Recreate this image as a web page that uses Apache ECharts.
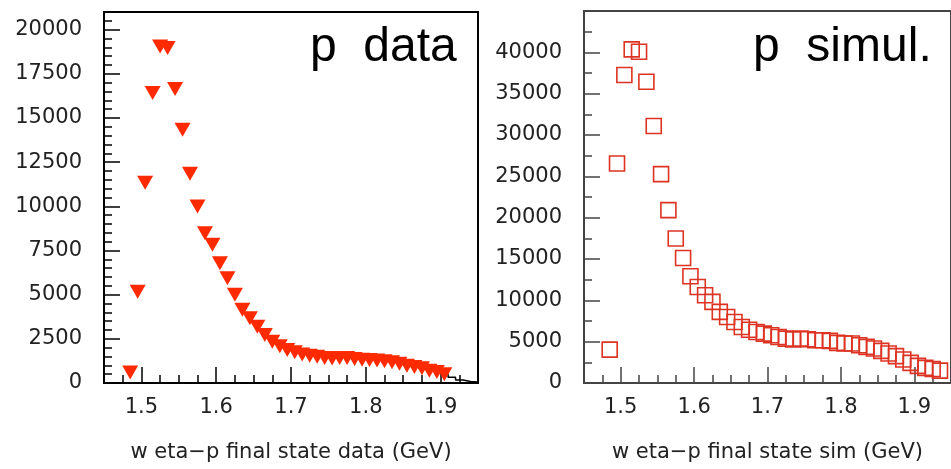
<!DOCTYPE html>
<html>
<head>
<meta charset="utf-8">
<script src="https://cdn.jsdelivr.net/npm/echarts@6/dist/echarts.min.js"></script>
<style>
  html, body { margin: 0; padding: 0; background: #fff; }
  #chart { width: 951px; height: 469px; }
</style>
</head>
<body>
<div id="chart"></div>
<script>
// W(eta-p) distributions, 10 MeV bins (bin centres in GeV)
const dataBinCenters = [1.485, 1.495, 1.505, 1.515, 1.525, 1.535, 1.545, 1.555, 1.565, 1.575,
  1.585, 1.595, 1.605, 1.615, 1.625, 1.635, 1.645, 1.655, 1.665, 1.675,
  1.685, 1.695, 1.705, 1.715, 1.725, 1.735, 1.745, 1.755, 1.765, 1.775,
  1.785, 1.795, 1.805, 1.815, 1.825, 1.835, 1.845, 1.855, 1.865, 1.875,
  1.885, 1.895, 1.905];
const dataCounts = [600, 5170, 11330, 16410, 19050, 18960, 16640, 14330, 11840, 9990,
  8480, 7820, 6780, 5930, 4990, 4140, 3660, 3190, 2720, 2340,
  2080, 1870, 1740, 1620, 1540, 1490, 1420, 1380, 1420, 1410,
  1360, 1320, 1300, 1270, 1230, 1180, 1090, 970, 900, 830,
  700, 620, 500];

// histogram outline of the last data bins (bin edges and contents)
const dataTailEdges = [1.90, 1.91, 1.92, 1.93, 1.94, 1.95];
const dataTailCounts = [500, 320, 170, 80, 50];

const simBinCenters = [1.485, 1.495, 1.505, 1.515, 1.525, 1.535, 1.545, 1.555, 1.565, 1.575,
  1.585, 1.595, 1.605, 1.615, 1.625, 1.635, 1.645, 1.655, 1.665, 1.675,
  1.685, 1.695, 1.705, 1.715, 1.725, 1.735, 1.745, 1.755, 1.765, 1.775,
  1.785, 1.795, 1.805, 1.815, 1.825, 1.835, 1.845, 1.855, 1.865, 1.875,
  1.885, 1.895, 1.905, 1.915, 1.925, 1.935];
const simCounts = [4040, 26560, 37250, 40360, 40070, 36440, 31080, 25270, 20910, 17480,
  15130, 12920, 11620, 10620, 9810, 8600, 7990, 7380, 6770, 6450,
  6170, 5970, 5770, 5570, 5370, 5270, 5370, 5290, 5170, 5170,
  5090, 4850, 4770, 4770, 4570, 4370, 4170, 3890, 3570, 3250,
  2840, 2440, 2070, 1830, 1700, 1500];

// axis ticks
const xMajorTicks = [1.5, 1.6, 1.7, 1.8, 1.9];
const xMinorTicks = [1.475, 1.525, 1.55, 1.575, 1.625, 1.65, 1.675, 1.725, 1.75, 1.775,
  1.825, 1.85, 1.875, 1.925];
const dataYMajorTicks = [0, 2500, 5000, 7500, 10000, 12500, 15000, 17500, 20000];
const dataYMinorTicks = [500, 1000, 1500, 2000, 3000, 3500, 4000, 4500, 5500, 6000, 6500, 7000,
  8000, 8500, 9000, 9500, 10500, 11000, 11500, 12000, 13000, 13500, 14000, 14500,
  15500, 16000, 16500, 17000, 18000, 18500, 19000, 19500, 20500];
const simYMajorTicks = [0, 5000, 10000, 15000, 20000, 25000, 30000, 35000, 40000];
const simYMinorTicks = [2500, 7500, 12500, 17500, 22500, 27500, 32500, 37500, 42500];

const dataTitle = 'p  data';
const simTitle = 'p  simul.';
const dataXName = 'w eta\u2212p final state data (GeV)';
const simXName = 'w eta\u2212p final state sim (GeV)';

const FONT = 'DejaVu Sans';

function pairs(xs, ys) { return xs.map((x, i) => [x, ys[i]]); }
function outline(edges, counts) {
  const pts = [];
  counts.forEach((c, i) => { pts.push([edges[i], c]); pts.push([edges[i + 1], c]); });
  return pts;
}

function majorX(grid, color, name) {
  return {
    type: 'value', gridIndex: grid, position: 'bottom', min: 1.45, max: 1.95,
    splitLine: { show: false },
    axisLine: { show: true, lineStyle: { color: color, width: 2 } },
    axisTick: { show: true, inside: true, length: 16, customValues: xMajorTicks,
      lineStyle: { color: color, width: 1.5 } },
    axisLabel: { customValues: xMajorTicks, margin: 14, color: '#222',
      fontFamily: FONT, fontSize: 21, formatter: v => v.toFixed(1) },
    name: name, nameLocation: 'middle', nameGap: 59,
    nameTextStyle: { fontFamily: FONT, fontSize: 21, color: '#222' }
  };
}
function minorX(grid, color) {
  return {
    type: 'value', gridIndex: grid, position: 'bottom', min: 1.45, max: 1.95,
    splitLine: { show: false }, axisLine: { show: false }, axisLabel: { show: false },
    axisTick: { show: true, inside: true, length: 8, customValues: xMinorTicks,
      lineStyle: { color: color, width: 1.5 } }
  };
}
function majorY(grid, color, max, ticks) {
  return {
    type: 'value', gridIndex: grid, position: 'left', min: 0, max: max,
    splitLine: { show: false },
    axisLine: { show: true, lineStyle: { color: color, width: 2 } },
    axisTick: { show: true, inside: true, length: 16, customValues: ticks,
      lineStyle: { color: color, width: 1.5 } },
    axisLabel: { customValues: ticks, margin: 22, color: '#222',
      fontFamily: FONT, fontSize: 21, formatter: v => String(v) }
  };
}
function minorY(grid, color, max, ticks) {
  return {
    type: 'value', gridIndex: grid, position: 'left', min: 0, max: max,
    splitLine: { show: false }, axisLine: { show: false }, axisLabel: { show: false },
    axisTick: { show: true, inside: true, length: 8, customValues: ticks,
      lineStyle: { color: color, width: 1.5 } }
  };
}

const chart = echarts.init(document.getElementById('chart'));
chart.setOption({
  animation: false,
  backgroundColor: '#fff',
  grid: [
    { left: 104, top: 12, width: 374, height: 371, show: true, borderColor: '#000', borderWidth: 2 },
    { left: 584, top: 11, width: 373, height: 372, show: true, borderColor: '#444', borderWidth: 2 }
  ],
  xAxis: [
    majorX(0, '#000', dataXName), minorX(0, '#000'),
    majorX(1, '#444', simXName), minorX(1, '#444')
  ],
  yAxis: [
    majorY(0, '#000', 21000, dataYMajorTicks), minorY(0, '#000', 21000, dataYMinorTicks),
    majorY(1, '#444', 45000, simYMajorTicks), minorY(1, '#444', 45000, simYMinorTicks)
  ],
  graphic: [
    { type: 'text', style: { text: dataTitle, x: 310, y: 48, fontSize: 48,
      fontFamily: 'Liberation Sans', fill: '#000', verticalAlign: 'middle' } },
    { type: 'text', style: { text: simTitle, x: 753, y: 48, fontSize: 48,
      fontFamily: 'Liberation Sans', fill: '#000', verticalAlign: 'middle' } }
  ],
  series: [
    {
      type: 'line', xAxisIndex: 0, yAxisIndex: 0,
      data: outline(dataTailEdges, dataTailCounts),
      showSymbol: false, lineStyle: { color: '#000', width: 1.5 }, z: 1
    },
    {
      type: 'scatter', xAxisIndex: 0, yAxisIndex: 0,
      data: pairs(dataBinCenters, dataCounts),
      symbol: 'triangle', symbolRotate: 180, symbolSize: [16, 14],
      itemStyle: { color: '#ff2a00', opacity: 1 }, z: 2
    },
    {
      type: 'scatter', xAxisIndex: 2, yAxisIndex: 2,
      data: pairs(simBinCenters, simCounts),
      symbol: 'rect', symbolSize: 15,
      itemStyle: { color: 'rgba(255,255,255,0)', borderColor: '#dd3322', borderWidth: 1.6, opacity: 1 },
      z: 2
    }
  ]
});
</script>
</body>
</html>
